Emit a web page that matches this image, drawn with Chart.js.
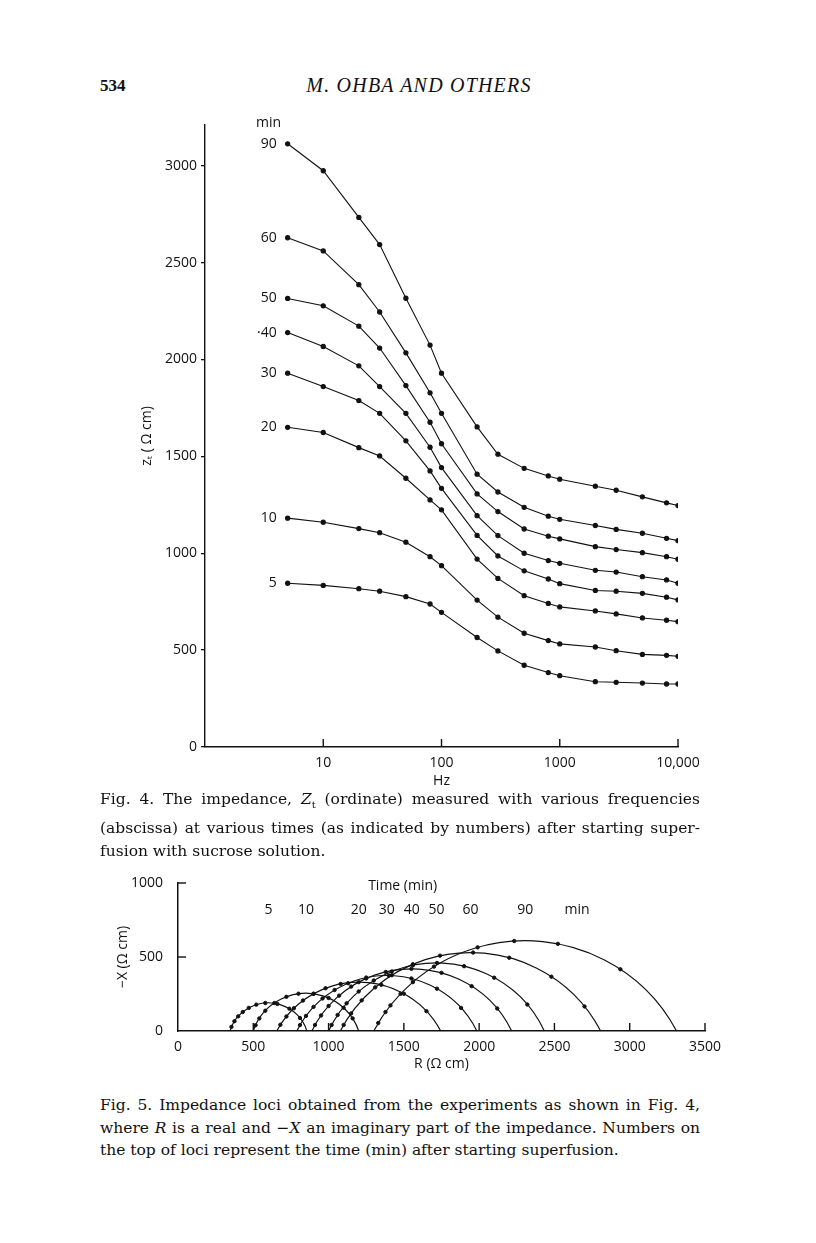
<!DOCTYPE html>
<html lang="en">
<head>
<meta charset="utf-8">
<title>Fig. 4 / Fig. 5</title>
<script src="https://cdn.jsdelivr.net/npm/chart.js@4.4.0/dist/chart.umd.min.js"></script>
<style>
  body { margin: 0; width: 816px; height: 1243px; position: relative; background: #fff; color: #111; overflow: hidden; }
  .abs { position: absolute; }
  .pageno { left: 100px; top: 76px; font: bold 17px "Liberation Serif", serif; }
  .runhead { left: 293px; top: 74px; width: 252px; text-align: center; font: italic 20px "Liberation Serif", serif; letter-spacing: 1.2px; }
  .cap { left: 100px; width: 600px; font: 15.5px "DejaVu Serif", serif; }
  .cap div { text-align: justify; text-align-last: justify; white-space: nowrap; }
  .cap div.last { text-align-last: left; }
  #cap1 { top: 788px; line-height: 23.5px; }
  #cap2 { top: 1094px; line-height: 22.5px; }
  #box1 { left: 0; top: 100px; width: 816px; height: 700px; }
  #box2 { left: 0; top: 860px; width: 816px; height: 220px; }
</style>
</head>
<body>
<div class="abs pageno">534</div>
<div class="abs runhead">M. OHBA AND OTHERS</div>

<div class="abs" id="box1"><canvas id="fig4"></canvas></div>
<div class="abs cap" id="cap1">
  <div>Fig. 4. The impedance, <i>Z</i><sub style="font-size:10px">t</sub> (ordinate) measured with various frequencies</div>
  <div>(abscissa) at various times (as indicated by numbers) after starting super-</div>
  <div class="last">fusion with sucrose solution.</div>
</div>

<div class="abs" id="box2"><canvas id="fig5"></canvas></div>
<div class="abs cap" id="cap2">
  <div>Fig. 5. Impedance loci obtained from the experiments as shown in Fig. 4,</div>
  <div>where <i>R</i> is a real and &minus;<i>X</i> an imaginary part of the impedance. Numbers on</div>
  <div class="last">the top of loci represent the time (min) after starting superfusion.</div>
</div>

<script>
// ---- Fig. 4 data: impedance Zt (ohm cm) vs frequency (Hz) ----
var freqs = [5, 10, 20, 30, 50, 80, 100, 200, 300, 500, 800, 1000, 2000, 3000, 5000, 8000, 10000];
var z90 = [3113, 2974, 2733, 2593, 2316, 2074, 1929, 1652, 1511, 1438, 1399, 1382, 1346, 1325, 1291, 1260, 1246];
var z60 = [2628, 2560, 2386, 2245, 2034, 1828, 1722, 1408, 1316, 1237, 1191, 1175, 1143, 1123, 1103, 1077, 1065];
var z50 = [2315, 2277, 2172, 2059, 1865, 1676, 1565, 1306, 1215, 1125, 1088, 1074, 1034, 1019, 1003, 982, 969];
var z40 = [2139, 2067, 1967, 1860, 1722, 1547, 1442, 1194, 1091, 1000, 962, 948, 912, 903, 879, 862, 845];
var z30 = [1929, 1860, 1788, 1722, 1580, 1425, 1335, 1092, 986, 909, 867, 843, 808, 804, 793, 773, 759];
var z20 = [1650, 1623, 1545, 1502, 1387, 1275, 1224, 970, 870, 781, 741, 723, 702, 687, 666, 654, 647];
var z10 = [1181, 1160, 1127, 1106, 1057, 982, 936, 758, 670, 587, 549, 532, 516, 497, 478, 473, 468];
var z5  = [845, 834, 817, 804, 776, 738, 695, 565, 496, 422, 384, 368, 337, 334, 330, 325, 325];
var fig4Labels = ['90', '60', '50', '\u00b740', '30', '20', '10', '5'];
var fig4Series = [z90, z60, z50, z40, z30, z20, z10, z5];
var yTicks4 = [0, 500, 1000, 1500, 2000, 2500, 3000];
var xTicks4 = [10, 100, 1000, 10000];
var xTickText4 = ['10', '100', '1000', '10,000'];

// ---- Fig. 5 data: impedance loci, R vs -X (ohm cm) ----
var times5 = ['5', '10', '20', '30', '40', '50', '60', '90'];
var arcLeft = [345, 500, 656, 789, 889, 1000, 1078, 1300];
var arcRight = [856, 1200, 1745, 1985, 2216, 2433, 2807, 3311];
var arcPeak = [190, 255, 330, 375, 420, 460, 530, 610];
var r5 = [355, 375, 400, 430, 470, 520, 580, 660, 740, 810];
var x5 = [28, 66, 99, 128, 156, 178, 189, 183, 151, 88];
var r10 = [515, 540, 580, 640, 720, 800, 900, 1000, 1100, 1160];
var x10 = [39, 85, 137, 189, 231, 252, 252, 223, 157, 85];
var r20 = [680, 720, 770, 830, 900, 980, 1080, 1200, 1350, 1500, 1650];
var x20 = [42, 98, 154, 206, 251, 289, 318, 330, 312, 252, 134];
var r30 = [810, 850, 900, 960, 1040, 1130, 1250, 1400, 1550, 1720, 1880];
var x30 = [40, 102, 163, 220, 277, 323, 361, 375, 355, 286, 156];
var r40 = [910, 950, 1000, 1070, 1150, 1250, 1380, 1550, 1750, 1950, 2120];
var x40 = [41, 105, 169, 239, 300, 355, 399, 420, 393, 303, 152];
var r50 = [1020, 1060, 1120, 1200, 1300, 1420, 1560, 1720, 1900, 2100, 2320];
var x50 = [41, 108, 187, 267, 341, 402, 444, 460, 438, 360, 179];
var r60 = [1100, 1150, 1220, 1310, 1420, 1560, 1740, 1960, 2200, 2480, 2700];
var x60 = [41, 119, 207, 295, 377, 451, 509, 530, 495, 367, 166];
var r90 = [1330, 1378, 1411, 1478, 1560, 1700, 1990, 2233, 2523, 2938];
var x90 = [54, 128, 173, 251, 330, 435, 565, 608, 589, 417];
var dotsR = [r5, r10, r20, r30, r40, r50, r60, r90];
var dotsX = [x5, x10, x20, x30, x40, x50, x60, x90];
var xTicks5 = [0, 500, 1000, 1500, 2000, 2500, 3000, 3500];
var yTicks5 = [0, 500, 1000];

var INK = '#111';
var tickFont = { family: '"Open Sans", sans-serif', size: 14 };
var labelFont = '14px "Open Sans", sans-serif';

// short tick marks pointing into the plot
var innerTicks = {
  id: 'innerTicks',
  afterDraw: function (chart, args, opts) {
    var ctx = chart.ctx, a = chart.chartArea;
    ctx.save();
    ctx.strokeStyle = INK;
    ctx.lineWidth = 1.4;
    (opts.x || []).forEach(function (v) {
      var px = chart.scales.x.getPixelForValue(v);
      ctx.beginPath(); ctx.moveTo(px, a.bottom); ctx.lineTo(px, a.bottom - opts.len); ctx.stroke();
    });
    (opts.y || []).forEach(function (v) {
      var py = chart.scales.y.getPixelForValue(v);
      ctx.beginPath(); ctx.moveTo(a.left, py); ctx.lineTo(a.left + opts.len, py); ctx.stroke();
    });
    ctx.restore();
  }
};

// time labels at the start of each curve of Fig. 4
var curveLabels = {
  id: 'curveLabels',
  afterDatasetsDraw: function (chart) {
    var ctx = chart.ctx, sx = chart.scales.x, sy = chart.scales.y;
    ctx.save();
    ctx.font = labelFont;
    ctx.fillStyle = INK;
    ctx.textAlign = 'right';
    ctx.textBaseline = 'middle';
    chart.data.datasets.forEach(function (ds, i) {
      var p = ds.data[0];
      var px = sx.getPixelForValue(p.x), py = sy.getPixelForValue(p.y);
      ctx.fillText(ds.label, px - 11, py);
      if (i === 0) {
        ctx.textAlign = 'center';
        ctx.fillText('min', px - 19, py - 21);
        ctx.textAlign = 'right';
      }
    });
    ctx.restore();
  }
};

// fitted (depressed) circular arcs + labels of Fig. 5
var lociArcs = {
  id: 'lociArcs',
  beforeDatasetsDraw: function (chart) {
    var ctx = chart.ctx, sx = chart.scales.x, sy = chart.scales.y;
    var kx = Math.abs(sx.getPixelForValue(1000) - sx.getPixelForValue(0)) / 1000;
    var ky = Math.abs(sy.getPixelForValue(1000) - sy.getPixelForValue(0)) / 1000;
    ctx.save();
    ctx.strokeStyle = INK;
    ctx.lineWidth = 1.2;
    for (var i = 0; i < arcLeft.length; i++) {
      var c = (arcRight[i] - arcLeft[i]) / 2, m = (arcRight[i] + arcLeft[i]) / 2, h = arcPeak[i];
      var d = (c * c - h * h) / (2 * h), r = h + d;
      var cx = sx.getPixelForValue(m), cy = sy.getPixelForValue(-d);
      ctx.beginPath();
      ctx.ellipse(cx, cy, r * kx, r * ky, 0, Math.atan2(-d, -c), Math.atan2(-d, c), false);
      ctx.stroke();
    }
    ctx.font = labelFont;
    ctx.fillStyle = INK;
    ctx.textAlign = 'center';
    ctx.textBaseline = 'middle';
    for (var j = 0; j < times5.length; j++) {
      ctx.fillText(times5[j], sx.getPixelForValue((arcLeft[j] + arcRight[j]) / 2), sy.getPixelForValue(819));
    }
    ctx.fillText('min', sx.getPixelForValue(2650), sy.getPixelForValue(819));
    ctx.fillText('Time (min)', sx.getPixelForValue(1492), sy.getPixelForValue(982));
    ctx.restore();
  }
};

function pickTicks(list) {
  return function (scale) { scale.ticks = list.map(function (v) { return { value: v }; }); };
}
function plain(v) { return String(v); }

// ---- Fig. 4 ----
var ds4 = fig4Series.map(function (arr, i) {
  return {
    label: fig4Labels[i],
    data: freqs.map(function (f, k) { return { x: f, y: arr[k] }; }),
    showLine: true,
    borderColor: INK,
    backgroundColor: INK,
    borderWidth: 1.1,
    pointRadius: 2.1,
    pointHoverRadius: 2.1
  };
});

new Chart(document.getElementById('fig4'), {
  type: 'scatter',
  data: { datasets: ds4 },
  plugins: [curveLabels, innerTicks],
  options: {
    responsive: true,
    maintainAspectRatio: false,
    animation: false,
    layout: { padding: { top: 25, right: 138, left: 125, bottom: 11 } },
    plugins: {
      legend: { display: false },
      tooltip: { enabled: false },
      innerTicks: { x: xTicks4, len: 8 }
    },
    scales: {
      x: {
        type: 'logarithmic',
        min: 1,
        max: 10000,
        afterBuildTicks: pickTicks(xTicks4),
        afterFit: function (s) { s.height = 42; },
        grid: { display: false },
        border: { display: true, color: INK, width: 1.4 },
        ticks: {
          color: INK, font: tickFont, padding: 0, maxRotation: 0,
          callback: function (v) { var i = xTicks4.indexOf(v); return i < 0 ? '' : xTickText4[i]; }
        },
        title: { display: true, text: 'Hz', color: INK, font: tickFont, padding: { top: 0, bottom: 0 } }
      },
      y: {
        min: 0,
        max: 3210,
        afterBuildTicks: pickTicks(yTicks4),
        afterFit: function (s) { s.width = 80; },
        grid: { display: true, drawOnChartArea: false, drawTicks: true, tickLength: 4, color: INK, lineWidth: 1.3 },
        border: { display: true, color: INK, width: 1.4 },
        ticks: { color: INK, font: tickFont, padding: 4, callback: plain },
        title: { display: true, text: 'z\u209C ( \u03A9 cm)', color: INK, font: tickFont, padding: { top: 14, bottom: 0 } }
      }
    }
  }
});

// ---- Fig. 5 ----
var ds5 = dotsR.map(function (rs, i) {
  return {
    label: times5[i] + ' min',
    data: rs.map(function (r, k) { return { x: r, y: dotsX[i][k] }; }),
    showLine: false,
    borderColor: INK,
    backgroundColor: INK,
    pointRadius: 1.7,
    pointHoverRadius: 1.7
  };
});

new Chart(document.getElementById('fig5'), {
  type: 'scatter',
  data: { datasets: ds5 },
  plugins: [lociArcs, innerTicks],
  options: {
    responsive: true,
    maintainAspectRatio: false,
    animation: false,
    layout: { padding: { top: 23, right: 111, left: 98, bottom: 8 } },
    plugins: {
      legend: { display: false },
      tooltip: { enabled: false },
      innerTicks: { x: xTicks5.slice(1), y: yTicks5.slice(1), len: 8 }
    },
    scales: {
      x: {
        type: 'linear',
        min: 0,
        max: 3500,
        afterBuildTicks: pickTicks(xTicks5),
        afterFit: function (s) { s.height = 41; },
        grid: { display: false },
        border: { display: true, color: INK, width: 1.5 },
        ticks: { color: INK, font: tickFont, padding: 0, maxRotation: 0, callback: plain },
        title: { display: true, text: 'R (\u03A9 cm)', color: INK, font: tickFont, padding: { top: 3, bottom: 0 } }
      },
      y: {
        min: 0,
        max: 1000,
        afterBuildTicks: pickTicks(yTicks5),
        afterFit: function (s) { s.width = 80; },
        grid: { display: false },
        border: { display: true, color: INK, width: 1.5 },
        ticks: { color: INK, font: tickFont, padding: 7, callback: plain },
        title: { display: true, text: '\u2212X (\u03A9 cm)', color: INK, font: tickFont, padding: { top: 17, bottom: 0 } }
      }
    }
  }
});
</script>
</body>
</html>
